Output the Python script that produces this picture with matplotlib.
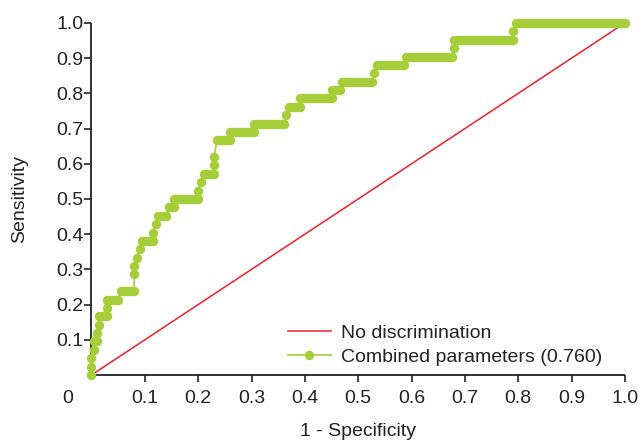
import numpy as np
import matplotlib.pyplot as plt

plt.rcParams['font.family'] = ['Liberation Sans', 'DejaVu Sans']

# ROC data: 42 positives, 200 negatives
n_pos = 42
n_neg = 200
# true positives at each level, with first/last false positive count on that level
tp_level = [0, 1, 2, 3, 4, 5, 6, 7, 8, 9, 10, 12, 13, 14, 15, 16, 17, 18, 19, 20,
            21, 22, 23, 24, 25, 26, 28, 29, 30, 31, 32, 33, 34, 35, 36, 37, 38, 39,
            40, 41, 42]
fp_first = [0, 0, 0, 1, 1, 2, 3, 3, 6, 6, 11, 16, 16, 17, 18, 19, 23, 24, 25, 29,
            31, 40, 41, 42, 46, 46, 47, 52, 61, 73, 74, 78, 90, 94, 106, 107, 118,
            136, 136, 158, 159]
fp_last = [0, 0, 0, 1, 2, 2, 3, 6, 6, 10, 16, 16, 16, 17, 18, 23, 23, 24, 28, 31,
           40, 40, 41, 46, 46, 46, 52, 61, 72, 73, 78, 90, 93, 105, 106, 117, 135,
           136, 158, 158, 200]

auc_label = 'Combined parameters (0.760)'
diag_label = 'No discrimination'

green = '#a6ce39'
red = '#e8212b'
ink = '#222222'
fs = 14

fpr = []
tpr = []
for tp, a, b in zip(tp_level, fp_first, fp_last):
    for fp in range(a, b + 1):
        fpr.append(fp / n_neg)
        tpr.append(tp / n_pos)

fig = plt.figure(figsize=(6.43, 4.42), dpi=100)
ax = fig.add_axes([0.1423, 0.1516, 0.8295, 0.7964])

ax.plot([0, 1], [0, 1], color=red, lw=1.1, label=diag_label, zorder=2)
ax.plot(fpr, tpr, color=green, lw=1.2, marker='o', markersize=6.8,
        markeredgewidth=0, label=auc_label, zorder=3, clip_on=False)

ax.set_xlim(0, 1)
ax.set_ylim(0, 1)
ticks = np.arange(1, 11) / 10
ax.set_xticks(ticks)
ax.set_yticks(ticks)
ax.set_xticklabels(['%.1f' % v for v in ticks])
ax.set_yticklabels(['%.1f' % v for v in ticks])
ax.text(-0.044, -0.068, '0', ha='center', va='center', fontsize=fs,
        color=ink, clip_on=False)

for s in ['top', 'right']:
    ax.spines[s].set_visible(False)
for s in ['left', 'bottom']:
    ax.spines[s].set_color(ink)
    ax.spines[s].set_linewidth(1.3)
    ax.spines[s].set_capstyle('butt')

ax.tick_params(axis='both', direction='out', length=5, width=1.2,
               color=ink, labelsize=fs, labelcolor=ink)
ax.tick_params(axis='y', pad=1)
ax.tick_params(axis='x', pad=6)

ax.set_xlabel('1 - Specificity', fontsize=fs, color=ink, labelpad=11)
ax.set_ylabel('Sensitivity', fontsize=fs, color=ink, labelpad=20)

ax.legend(loc='center left', bbox_to_anchor=(0.368, 0.085), frameon=False,
          fontsize=fs, borderpad=0, borderaxespad=0, handlelength=2.2,
          handletextpad=0.55, labelspacing=0.3, labelcolor=ink)

fig.savefig('out.png', dpi=100)
